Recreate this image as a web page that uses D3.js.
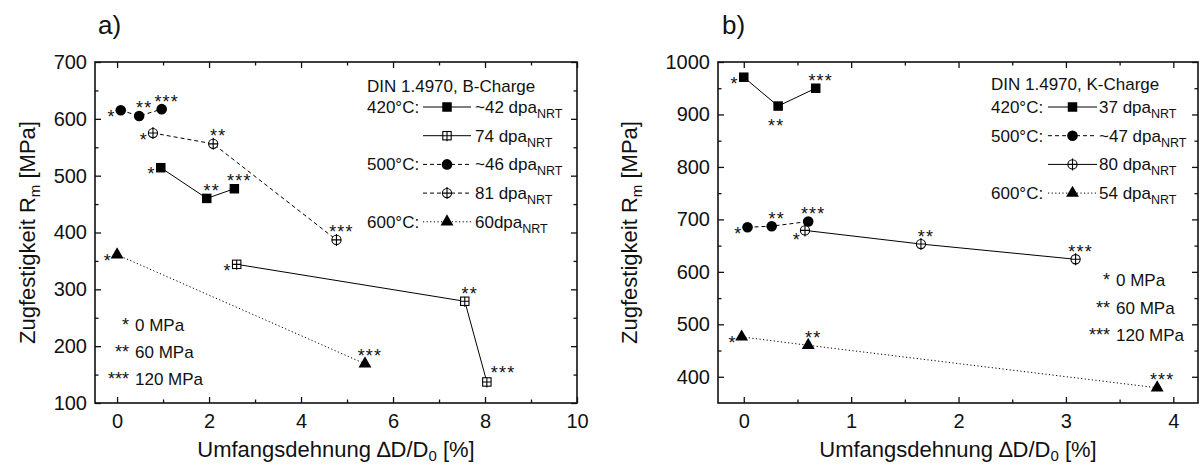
<!DOCTYPE html>
<html>
<head>
<meta charset="utf-8">
<script src="https://cdnjs.cloudflare.com/ajax/libs/d3/7.8.5/d3.min.js"></script>
<style>
  body { margin: 0; background: #fff; }
  svg { display: block; }
  text { font-family: "Liberation Sans", Arial, sans-serif; fill: #111; }
</style>
</head>
<body>
<svg id="chart" width="1201" height="466"></svg>
<script>
// ---- panel a) DIN 1.4970, B-Charge ----
const aLabels = ["~42 dpa", "74 dpa", "~46 dpa", "81 dpa", "60dpa"];
const aTemps = ["420°C:", "", "500°C:", "", "600°C:"];
const aMarkers = ["square", "squareCross", "circle", "circleCross", "triangle"];
const aLines = ["solid", "solid", "dashed", "dashed", "dotted"];
const aStrain = [[0.95, 1.95, 2.55], [2.6, 7.56, 8.04], [0.08, 0.48, 0.97], [0.78, 2.09, 4.77], [0.0, 5.39]];
const aStrength = [[514, 460, 477], [344, 279, 137], [615, 605, 617], [575, 556, 387], [361, 169]];
const aStress = [[0, 60, 120], [0, 60, 120], [0, 60, 120], [0, 60, 120], [0, 120]];
const aStarPos = [["l", "t", "t"], ["l", "t", "tr"], ["l", "t", "t"], ["l", "t", "t"], ["l", "t"]];

// ---- panel b) DIN 1.4970, K-Charge ----
const bLabels = ["37 dpa", "~47 dpa", "80 dpa", "54 dpa"];
const bTemps = ["420°C:", "500°C:", "", "600°C:"];
const bMarkers = ["square", "circle", "circleCross", "triangle"];
const bLines = ["solid", "dashed", "solid", "dotted"];
const bStrain = [[0.0, 0.32, 0.67], [0.035, 0.26, 0.6], [0.57, 1.65, 3.09], [-0.02, 0.6, 3.85]];
const bStrength = [[971, 916, 950], [685, 687, 696], [679, 653, 624], [476, 460, 379]];
const bStress = [[0, 60, 120], [0, 60, 120], [0, 60, 120], [0, 60, 120]];
const bStarPos = [["l", "b", "t"], ["l", "t", "t"], ["bl", "t", "t"], ["l", "t", "t"]];

const stressLevels = [0, 60, 120];
const stars = {0: "*", 60: "**", 120: "***"};

const svg = d3.select("#chart");
const dashes = {solid: null, dashed: "4,3", dotted: "1.2,2.4"};

function drawMarker(g, type, x, y) {
    if (type === "square") {
        g.append("rect").attr("x", x - 4.75).attr("y", y - 4.75)
            .attr("width", 9.5).attr("height", 9.5).attr("fill", "#000");
    } else if (type === "circle") {
        g.append("circle").attr("cx", x).attr("cy", y).attr("r", 5.3).attr("fill", "#000");
    } else if (type === "triangle") {
        g.append("path").attr("d", d3.symbol(d3.symbolTriangle, 72)())
            .attr("transform", `translate(${x},${y})`).attr("fill", "#000");
    } else if (type === "squareCross") {
        g.append("rect").attr("x", x - 4.2).attr("y", y - 4.2)
            .attr("width", 8.4).attr("height", 8.4)
            .attr("fill", "#fff").attr("stroke", "#000").attr("stroke-width", 1.1);
        g.append("path").attr("d", `M${x - 4.2},${y}H${x + 4.2}M${x},${y - 4.2}V${y + 5.5}`)
            .attr("stroke", "#000").attr("stroke-width", 1.1);
    } else if (type === "circleCross") {
        g.append("circle").attr("cx", x).attr("cy", y).attr("r", 4.6)
            .attr("fill", "#fff").attr("stroke", "#000").attr("stroke-width", 1.1);
        g.append("path").attr("d", `M${x - 4.6},${y}H${x + 4.6}M${x},${y - 6}V${y + 6}`)
            .attr("stroke", "#000").attr("stroke-width", 1.1);
    }
}

function drawPanel(o) {
    const g = svg.append("g");
    const x = d3.scaleLinear().domain(o.xDomain).range([o.left, o.right]);
    const y = d3.scaleLinear().domain(o.yDomain).range([o.bottom, o.top]);

    const styleAxis = (sel, fs) => {
        sel.select(".domain").remove();
        sel.selectAll(".tick line").attr("stroke", "#111").attr("stroke-width", 1.3);
        sel.selectAll("text").attr("font-size", fs).attr("font-family", "Liberation Sans, Arial, sans-serif").attr("fill", "#111");
    };

    // bottom + left with labels
    g.append("g").attr("transform", `translate(0,${o.bottom})`)
        .call(d3.axisBottom(x).tickValues(o.xMajor).tickSizeInner(-6).tickSizeOuter(0).tickPadding(11).tickFormat(d3.format("d")))
        .call(s => styleAxis(s, 20));
    g.append("g").attr("transform", `translate(0,${o.bottom})`)
        .call(d3.axisBottom(x).tickValues(o.xMinor).tickSizeInner(-3.5).tickSizeOuter(0).tickFormat(""))
        .call(s => styleAxis(s, 0));
    g.append("g").attr("transform", `translate(${o.left},0)`)
        .call(d3.axisLeft(y).tickValues(o.yMajor).tickSizeInner(-6).tickSizeOuter(0).tickPadding(8).tickFormat(d3.format("d")))
        .call(s => styleAxis(s, 20));
    g.append("g").attr("transform", `translate(${o.left},0)`)
        .call(d3.axisLeft(y).tickValues(o.yMinor).tickSizeInner(-3.5).tickSizeOuter(0).tickFormat(""))
        .call(s => styleAxis(s, 0));
    // mirrored top + right
    g.append("g").attr("transform", `translate(0,${o.top})`)
        .call(d3.axisTop(x).tickValues(o.xMajor).tickSizeInner(-6).tickSizeOuter(0).tickFormat(""))
        .call(s => styleAxis(s, 0));
    g.append("g").attr("transform", `translate(0,${o.top})`)
        .call(d3.axisTop(x).tickValues(o.xMinor).tickSizeInner(-3.5).tickSizeOuter(0).tickFormat(""))
        .call(s => styleAxis(s, 0));
    g.append("g").attr("transform", `translate(${o.right},0)`)
        .call(d3.axisRight(y).tickValues(o.yMajor).tickSizeInner(-6).tickSizeOuter(0).tickFormat(""))
        .call(s => styleAxis(s, 0));
    g.append("g").attr("transform", `translate(${o.right},0)`)
        .call(d3.axisRight(y).tickValues(o.yMinor).tickSizeInner(-3.5).tickSizeOuter(0).tickFormat(""))
        .call(s => styleAxis(s, 0));

    g.append("rect").attr("x", o.left).attr("y", o.top)
        .attr("width", o.right - o.left).attr("height", o.bottom - o.top)
        .attr("fill", "none").attr("stroke", "#111").attr("stroke-width", 1.6);

    // panel letter
    g.append("text").attr("x", o.letterX).attr("y", 34).attr("font-size", 26).text(o.letter);

    // axis titles
    const xt = g.append("text").attr("x", (o.left + o.right) / 2).attr("y", 457)
        .attr("text-anchor", "middle").attr("font-size", 22);
    xt.append("tspan").text("Umfangsdehnung \u2206D/D");
    xt.append("tspan").attr("font-size", 15).attr("dy", 4).text("0");
    xt.append("tspan").attr("dy", -4).text(" [%]");

    const yt = g.append("text")
        .attr("transform", `translate(${o.yTitleX},${(o.top + o.bottom) / 2}) rotate(-90)`)
        .attr("text-anchor", "middle").attr("font-size", 22);
    yt.append("tspan").text("Zugfestigkeit R");
    yt.append("tspan").attr("font-size", 15).attr("dy", 5).text("m");
    yt.append("tspan").attr("dy", -5).text(" [MPa]");

    // series
    const line = d3.line().x(d => x(d[0])).y(d => y(d[1]));
    o.strain.forEach((xs, i) => {
        const pts = xs.map((v, j) => [v, o.strength[i][j]]);
        g.append("path").attr("d", line(pts)).attr("fill", "none")
            .attr("stroke", "#000").attr("stroke-width", 1)
            .attr("stroke-dasharray", dashes[o.lines[i]]);
    });
    o.strain.forEach((xs, i) => {
        xs.forEach((v, j) => {
            const px = x(v), py = y(o.strength[i][j]);
            drawMarker(g, o.markers[i], px, py);
            const pos = o.starPos[i][j];
            let tx = px, cy = py, anchor = "middle";
            if (pos === "l") { tx = px - 5; cy = py + 2; anchor = "end"; }
            else if (pos === "bl") { tx = px - 4; cy = py + 5; anchor = "end"; }
            else if (pos === "t") { tx = px + 5; cy = py - 12; }
            else if (pos === "tr") { tx = px + 4; cy = py - 13; anchor = "start"; }
            else if (pos === "b") { tx = px - 2; cy = py + 15; }
            g.append("text").attr("x", tx).attr("y", cy + 10.5)
                .attr("text-anchor", anchor).attr("font-size", 18)
                .attr("letter-spacing", 1.2)
                .text(stars[o.stress[i][j]]);
        });
    });

    // legend
    const L = o.legend;
    g.append("text").attr("x", L.x).attr("y", L.titleY + 6).attr("font-size", 17).text(o.title);
    o.labels.forEach((lab, i) => {
        const cy = L.rowY + i * L.gap;
        if (o.temps[i]) g.append("text").attr("x", L.x).attr("y", cy + 6).attr("font-size", 17).text(o.temps[i]);
        g.append("line").attr("x1", L.lineX0).attr("x2", L.lineX1).attr("y1", cy).attr("y2", cy)
            .attr("stroke", "#000").attr("stroke-width", 1).attr("stroke-dasharray", dashes[o.lines[i]]);
        drawMarker(g, o.markers[i], (L.lineX0 + L.lineX1) / 2, cy);
        const t = g.append("text").attr("x", L.textX).attr("y", cy + 6).attr("font-size", 17);
        t.append("tspan").text(lab);
        t.append("tspan").attr("font-size", 12.5).attr("dy", 5).text("NRT");
    });

    // stress key
    const S = o.stressKey;
    stressLevels.forEach((s, i) => {
        const cy = S.y + i * S.gap;
        g.append("text").attr("x", S.x).attr("y", cy + 6).attr("text-anchor", "end")
            .attr("font-size", 18).text(stars[s]);
        g.append("text").attr("x", S.x + 6).attr("y", cy + 6).attr("font-size", 17).text(`${s} MPa`);
    });
}

drawPanel({
    letter: "a)", letterX: 98, yTitleX: 35,
    left: 95, right: 577, top: 62, bottom: 403,
    xDomain: [-0.48, 10], yDomain: [100, 700],
    xMajor: [0, 2, 4, 6, 8, 10], xMinor: [1, 3, 5, 7, 9],
    yMajor: [100, 200, 300, 400, 500, 600, 700], yMinor: [150, 250, 350, 450, 550, 650],
    title: "DIN 1.4970, B-Charge",
    labels: aLabels, temps: aTemps, markers: aMarkers, lines: aLines,
    strain: aStrain, strength: aStrength, stress: aStress, starPos: aStarPos,
    legend: {x: 367, titleY: 86, rowY: 107, gap: 28.7, lineX0: 423, lineX1: 471, textX: 475},
    stressKey: {x: 129, y: 325, gap: 27}
});

drawPanel({
    letter: "b)", letterX: 722, yTitleX: 637,
    left: 718, right: 1198, top: 62, bottom: 403,
    xDomain: [-0.24, 4.23], yDomain: [350, 1000],
    xMajor: [0, 1, 2, 3, 4], xMinor: [0.5, 1.5, 2.5, 3.5],
    yMajor: [400, 500, 600, 700, 800, 900, 1000], yMinor: [450, 550, 650, 750, 850, 950],
    title: "DIN 1.4970, K-Charge",
    labels: bLabels, temps: bTemps, markers: bMarkers, lines: bLines,
    strain: bStrain, strength: bStrength, stress: bStress, starPos: bStarPos,
    legend: {x: 991, titleY: 84, rowY: 107, gap: 28.7, lineX0: 1048, lineX1: 1097, textX: 1099},
    stressKey: {x: 1110, y: 280, gap: 27.5}
});
</script>
</body>
</html>
